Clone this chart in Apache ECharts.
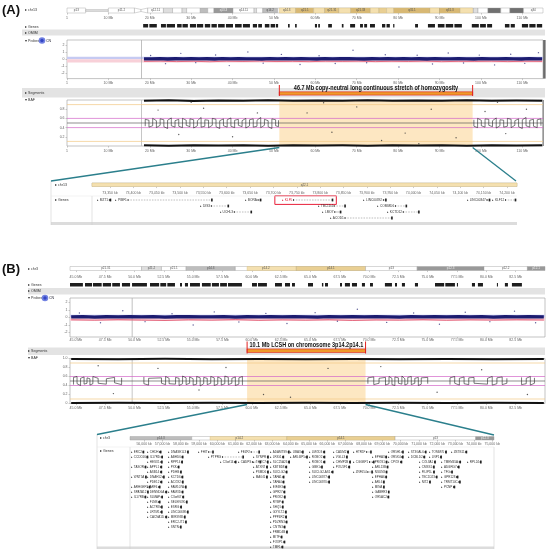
<!DOCTYPE html>
<html>
<head>
<meta charset="utf-8">
<script src="https://cdn.jsdelivr.net/npm/echarts@6/dist/echarts.min.js"></script>
<style>
  html, body { margin: 0; padding: 0; background: #fff; }
  #chart { width: 550px; height: 552px; }
</style>
</head>
<body>
<div id="chart"></div>
<script>
// LCSH regions (Mb) and banner texts
const lcshA = [51.3, 98.0];
const lcshB = [59.6, 69.7];
const bannerA = '46.7 Mb copy-neutral long continuous stretch of homozygosity';
const bannerB = '10.1 Mb LCSH on chromosome 3p14.2p14.1';

// cytobands [start, end, stain, name]
const bandsChr13 = [
  [0, 4.5, 'gvar', 'p13'], [4.5, 10, 'stalk', 'p12'], [10, 16.3, 'gvar', 'p11.2'], [16.3, 17.9, 'acen', 'p11.1'], [17.9, 19.5, 'acen', 'q11'],
  [19.5, 23.3, 'gneg', 'q12.11'], [23.3, 25.5, 'gpos25', 'q12.12'], [25.5, 27.8, 'gneg', 'q12.13'], [27.8, 28.9, 'gpos25', 'q12.2'], [28.9, 32.2, 'gneg', 'q12.3'],
  [32.2, 34, 'gpos50', 'q13.1'], [34, 35.5, 'gneg', 'q13.2'], [35.5, 40.1, 'gpos75', 'q13.3'], [40.1, 45.2, 'gneg', 'q14.11'], [45.2, 45.8, 'gpos25', 'q14.12'],
  [45.8, 47.3, 'gneg', 'q14.13'], [47.3, 50.9, 'gpos50', 'q14.2'], [50.9, 55.3, 'gneg', 'q14.3'], [55.3, 59.6, 'gpos100', 'q21.1'], [59.6, 62.3, 'gneg', 'q21.2'],
  [62.3, 65.7, 'gpos75', 'q21.31'], [65.7, 68.6, 'gneg', 'q21.32'], [68.6, 73.3, 'gpos100', 'q21.33'], [73.3, 75.4, 'gneg', 'q22.1'], [75.4, 77.2, 'gpos50', 'q22.2'],
  [77.2, 79, 'gneg', 'q22.3'], [79, 87.7, 'gpos100', 'q31.1'], [87.7, 90, 'gneg', 'q31.2'], [90, 95, 'gpos100', 'q31.3'], [95, 98.2, 'gneg', 'q32.1'],
  [98.2, 99.3, 'gpos25', 'q32.2'], [99.3, 101.7, 'gneg', 'q32.3'], [101.7, 104.8, 'gpos100', 'q33.1'], [104.8, 107, 'gneg', 'q33.2'], [107, 110.3, 'gpos100', 'q33.3'],
  [110.3, 115.2, 'gneg', 'q34']
];
const bandsChr3 = [
  [40.4, 44.2, 'gpos75', 'p21.33'], [44.2, 50.6, 'gneg', 'p21.31'], [50.6, 52.3, 'gpos25', 'p21.2'], [52.3, 54.4, 'gneg', 'p21.1'],
  [54.4, 58.6, 'gpos50', 'p14.3'], [58.6, 63.8, 'gneg', 'p14.2'], [63.8, 69.7, 'gpos50', 'p14.1'], [69.7, 74.1, 'gneg', 'p13'],
  [74.1, 79.8, 'gpos75', 'p12.3'], [79.8, 83.5, 'gneg', 'p12.2'], [83.5, 87.2, 'gpos75', 'p12.1']
];

// axis ticks
const ticksA = [0, 10, 20, 30, 40, 50, 60, 70, 80, 90, 100, 110];
const ticksB = [45, 47.5, 50, 52.5, 55, 57.5, 60, 62.5, 65, 67.5, 70, 72.5, 75, 77.5, 80, 82.5];
const ticksZoomA = [73.35, 73.4, 73.45, 73.5, 73.55, 73.6, 73.65, 73.7, 73.75, 73.8, 73.85, 73.9, 73.95, 74.0, 74.05, 74.1, 74.15, 74.2];
const ticksZoomB = [56, 57, 58, 59, 60, 61, 62, 63, 64, 65, 66, 67, 68, 69, 70, 71, 72, 73, 74, 75];
const probeTicks = [-2, -1, 0, 1, 2];
const bafTicksA = [0.2, 0.4, 0.6, 0.8];
const bafTicksB = [0, 0.2, 0.4, 0.6, 0.8, 1];

// reference levels
const probeShading = [[0, 0.38], [-0.45, 0]];        // copy-neutral bands (log2)
const bafOuterLines = [0.9, 0.1];
const bafInnerLines = [0.6, 0.4];
const bafMidLine = [0.5];
const centromereA = [18];
const markerLineB = [49.8];

// gene density blocks [start, end] Mb
const geneBlocksA = [[18.4, 19.6], [19.9, 21.7], [22.7, 23.9], [24.1, 26.1], [26.6, 27.7], [27.9, 29.2], [29.7, 31.2], [31.4, 32.9], [33.3, 34.6],
  [34.9, 36.2], [36.5, 38.1], [38.4, 40.1], [40.6, 42.2], [42.5, 44.2], [44.9, 45.9], [46.2, 47.1], [47.8, 48.9], [49.2, 50.3], [50.5, 51.0],
  [53.4, 53.8], [55.1, 55.5], [59.9, 60.4], [60.7, 61.1], [63.1, 64.0], [66.4, 66.8], [68.4, 69.6], [70.8, 71.5], [71.8, 72.5], [73.2, 74.4],
  [76.1, 76.9], [77.2, 78.0], [78.8, 79.1], [84.1, 84.8], [87.2, 88.9], [89.6, 91.2], [91.5, 93.3], [93.6, 95.4], [97.8, 99.5], [99.8, 101.2],
  [101.5, 102.7], [105.8, 106.9], [107.2, 108.2], [109.9, 111.4], [111.7, 113.2], [113.5, 114.8]];
const geneBlocksB = [[44.5, 45.6], [45.78, 46.38], [46.46, 47.2], [47.3, 48.0], [48.1, 48.76], [48.93, 49.62], [49.79, 51.06], [51.32, 52.1],
  [52.2, 52.7], [52.8, 53.45], [53.88, 54.05], [54.3, 54.56], [54.73, 55.58], [55.75, 56.5], [56.6, 57.2], [57.3, 57.88], [57.97, 59.16],
  [60.02, 60.44], [60.53, 61.29], [61.98, 62.57], [62.83, 63.26], [63.43, 63.68], [64.79, 65.22], [65.98, 66.1], [66.24, 66.5], [67.52, 67.69],
  [67.94, 68.37], [68.54, 68.97], [69.39, 69.65], [70.08, 70.33], [71.35, 71.95], [72.21, 72.38], [72.8, 73.06], [73.91, 74.17], [75.62, 76.4],
  [76.5, 77.32], [77.49, 77.58], [78.77, 79.03], [79.28, 79.71], [80.9, 80.99], [81.58, 81.84], [82.18, 83.03]];

// probes log2 ratio
const probeBandA = [[18.6, 0.07], [20.5, 0.05], [22.4, 0.09], [24.3, 0.04], [26.2, 0.08], [28.1, 0.06], [30.0, 0.1], [31.9, 0.05], [33.8, 0.08],
  [35.7, 0.04], [37.6, 0.09], [39.5, 0.06], [41.4, 0.1], [43.3, 0.05], [45.2, 0.07], [47.1, 0.04], [49.0, 0.09], [50.9, 0.06], [52.8, 0.08],
  [54.7, 0.05], [56.6, 0.1], [58.5, 0.06], [60.4, 0.04], [62.3, 0.09], [64.2, 0.05], [66.1, 0.08], [68.0, 0.1], [69.9, 0.06], [71.8, 0.04],
  [73.7, 0.08], [75.6, 0.05], [77.5, 0.09], [79.4, 0.06], [81.3, 0.1], [83.2, 0.05], [85.1, 0.08], [87.0, 0.04], [88.9, 0.09], [90.8, 0.06],
  [92.7, 0.05], [94.6, 0.1], [96.5, 0.07], [98.4, 0.04], [100.3, 0.09], [102.2, 0.06], [104.1, 0.05], [106.0, 0.1], [107.9, 0.07], [109.8, 0.04],
  [111.7, 0.09], [113.6, 0.06], [114.8, 0.07]];
const probeRedA = [[18.6, -0.3], [22.5, -0.26], [26.5, -0.33], [30.5, -0.28], [34.5, -0.35], [38.5, -0.27], [42.5, -0.31], [46.5, -0.25],
  [50.5, -0.32], [54.5, -0.29], [58.5, -0.34], [62.5, -0.27], [66.5, -0.3], [70.5, -0.26], [74.5, -0.33], [78.5, -0.28], [82.5, -0.31],
  [86.5, -0.25], [90.5, -0.34], [94.5, -0.29], [98.5, -0.3], [102.5, -0.27], [106.5, -0.33], [110.5, -0.28], [114.8, -0.3]];
const probeOutA = [[20.2, 0.55], [23.8, -0.62], [27.5, 0.85], [31.1, -0.48], [35.9, 0.62], [39.2, -0.9], [43.7, 1.05], [47.4, -0.55],
  [51.8, 0.7], [56.3, -0.75], [60.9, 0.5], [64.8, -0.6], [69.1, 1.3], [72.4, -0.5], [76.9, 0.65], [80.2, -1.1], [84.6, 0.58], [88.3, -0.68],
  [92.1, 0.9], [95.8, -0.52], [99.6, 0.6], [103.3, -0.8], [107.2, 0.72], [110.6, -0.58], [113.9, 0.95]];
const probeBandB = [[44.6, 0.08], [45.6, 0.12], [46.6, 0.06], [47.6, 0.1], [48.6, 0.07], [49.6, 0.13], [50.6, 0.08], [51.6, 0.11], [52.6, 0.06],
  [53.6, 0.1], [54.6, 0.12], [55.6, 0.07], [56.6, 0.09], [57.6, 0.13], [58.6, 0.06], [59.6, 0.1], [60.6, 0.08], [61.6, 0.12], [62.6, 0.07],
  [63.6, 0.11], [64.6, 0.09], [65.6, 0.06], [66.6, 0.12], [67.6, 0.08], [68.6, 0.1], [69.6, 0.07], [70.6, 0.13], [71.6, 0.09], [72.6, 0.06],
  [73.6, 0.11], [74.6, 0.08], [75.6, 0.12], [76.6, 0.07], [77.6, 0.1], [78.6, 0.09], [79.6, 0.13], [80.6, 0.06], [81.6, 0.1], [82.6, 0.08],
  [83.6, 0.12], [84.9, 0.09]];
const probeRedB = [[44.6, -0.3], [46.6, -0.36], [48.6, -0.28], [50.6, -0.34], [52.6, -0.4], [54.6, -0.3], [56.6, -0.35], [58.6, -0.27],
  [60.6, -0.38], [62.6, -0.31], [64.6, -0.36], [66.6, -0.29], [68.6, -0.4], [70.6, -0.32], [72.6, -0.35], [74.6, -0.28], [76.6, -0.37],
  [78.6, -0.3], [80.6, -0.34], [82.6, -0.29], [84.9, -0.33]];
const probeOutB = [[45.3, 0.6], [47.1, -0.7], [49.0, 0.9], [50.9, -0.55], [53.2, 0.5], [55.0, -1.0], [56.8, 0.75], [58.9, -0.6], [61.2, 0.55],
  [63.0, -0.8], [65.4, 0.65], [67.3, -0.5], [69.0, 1.1], [71.5, -0.65], [73.8, 0.6], [76.0, -0.9], [78.2, 0.7], [80.3, -0.55], [82.4, 0.85],
  [84.2, -0.7]];

// B allele frequency
const bafTopA = [[18.6, 0.985], [24.6, 0.992], [30.6, 0.98], [36.6, 0.99], [42.6, 0.984], [48.6, 0.993], [54.6, 0.982], [60.6, 0.99],
  [66.6, 0.986], [72.6, 0.992], [78.6, 0.981], [84.6, 0.99], [90.6, 0.985], [96.6, 0.993], [102.6, 0.982], [108.6, 0.99], [114.8, 0.986]];
const bafBotA = [[18.6, 0.014], [24.6, 0.008], [30.6, 0.018], [36.6, 0.01], [42.6, 0.016], [48.6, 0.007], [54.6, 0.017], [60.6, 0.01],
  [66.6, 0.014], [72.6, 0.008], [78.6, 0.019], [84.6, 0.01], [90.6, 0.015], [96.6, 0.007], [102.6, 0.018], [108.6, 0.01], [114.8, 0.014]];
// heterozygous band [position, low, high]
const bafMidA = [[18.9, 0.43, 0.58], [19.8, 0.41, 0.56], [20.7, 0.44, 0.6], [21.6, 0.4, 0.55], [22.5, 0.45, 0.59], [23.4, 0.42, 0.57],
  [24.3, 0.38, 0.56], [25.2, 0.44, 0.61], [26.1, 0.41, 0.55], [27.0, 0.43, 0.58], [27.9, 0.4, 0.6], [28.8, 0.45, 0.56], [29.7, 0.42, 0.59],
  [30.6, 0.39, 0.57], [31.5, 0.44, 0.55], [32.4, 0.41, 0.62], [33.3, 0.43, 0.57], [34.2, 0.4, 0.56], [35.1, 0.45, 0.6], [36.0, 0.42, 0.58],
  [36.9, 0.38, 0.55], [37.8, 0.44, 0.59], [38.7, 0.41, 0.57], [39.6, 0.43, 0.61], [40.5, 0.4, 0.56], [41.4, 0.45, 0.58], [42.3, 0.42, 0.55],
  [43.2, 0.39, 0.6], [44.1, 0.44, 0.57], [45.0, 0.41, 0.59], [45.9, 0.43, 0.56], [46.8, 0.4, 0.62], [47.7, 0.45, 0.58], [48.6, 0.42, 0.55],
  [49.5, 0.38, 0.59], [50.4, 0.44, 0.57], [51.1, 0.42, 0.56],
  [98.3, 0.43, 0.57], [99.2, 0.4, 0.6], [100.1, 0.44, 0.56], [101.0, 0.41, 0.59], [101.9, 0.45, 0.58], [102.8, 0.42, 0.55], [103.7, 0.39, 0.61],
  [104.6, 0.44, 0.57], [105.5, 0.41, 0.56], [106.4, 0.43, 0.6], [107.3, 0.4, 0.58], [108.2, 0.45, 0.55], [109.1, 0.42, 0.59], [110.0, 0.38, 0.57],
  [110.9, 0.44, 0.62], [111.8, 0.41, 0.56], [112.7, 0.43, 0.58], [113.6, 0.4, 0.57], [114.5, 0.44, 0.59]];
const bafOutA = [[22.0, 0.78], [27.0, 0.25], [33.0, 0.82], [40.0, 0.2], [46.0, 0.72], [58.0, 0.72], [64.0, 0.3], [70.0, 0.85], [76.0, 0.12],
  [81.7, 0.28], [88.0, 0.8], [94.0, 0.18], [101.0, 0.75], [106.0, 0.27], [111.0, 0.8], [30.0, 0.95], [62.0, 0.94], [85.0, 0.05], [104.0, 0.95]];
const bafTopB = [[44.6, 0.988], [48.6, 0.982], [52.6, 0.992], [56.6, 0.985], [60.6, 0.99], [64.6, 0.983], [68.6, 0.991], [72.6, 0.986],
  [76.6, 0.99], [80.6, 0.982], [84.9, 0.988]];
const bafBotB = [[44.6, 0.012], [48.6, 0.018], [52.6, 0.01], [56.6, 0.016], [60.6, 0.011], [64.6, 0.017], [68.6, 0.012], [72.6, 0.015],
  [76.6, 0.01], [80.6, 0.018], [84.9, 0.013]];
const bafMidB = [[44.8, 0.42, 0.58], [45.1, 0.44, 0.6], [45.4, 0.4, 0.56], [45.7, 0.43, 0.59], [45.95, 0.45, 0.57], [46.2, 0.41, 0.55],
  [46.45, 0.44, 0.6], [46.9, 0.45, 0.56], [47.6, 0.43, 0.55], [48.3, 0.46, 0.58], [48.9, 0.42, 0.57], [50.8, 0.44, 0.59], [51.2, 0.41, 0.56],
  [52.3, 0.45, 0.57], [52.65, 0.42, 0.6], [52.95, 0.44, 0.56], [53.5, 0.43, 0.58], [53.8, 0.4, 0.56], [54.1, 0.44, 0.61], [54.4, 0.42, 0.57],
  [54.7, 0.45, 0.59], [55.0, 0.41, 0.55], [55.3, 0.43, 0.6], [55.6, 0.39, 0.57], [55.9, 0.44, 0.58], [56.2, 0.42, 0.56], [56.5, 0.45, 0.6],
  [56.8, 0.4, 0.57], [57.1, 0.43, 0.59], [57.4, 0.41, 0.55], [57.7, 0.44, 0.61], [58.0, 0.42, 0.58], [58.3, 0.45, 0.56], [58.6, 0.4, 0.59],
  [58.9, 0.43, 0.57], [59.2, 0.41, 0.6], [69.9, 0.44, 0.57], [70.4, 0.42, 0.59], [70.85, 0.45, 0.56], [71.4, 0.41, 0.58], [71.7, 0.44, 0.6],
  [71.95, 0.42, 0.56], [72.2, 0.4, 0.59], [72.5, 0.45, 0.57], [72.8, 0.43, 0.61], [73.05, 0.41, 0.55], [73.3, 0.44, 0.58], [73.6, 0.42, 0.6],
  [73.9, 0.45, 0.56], [74.2, 0.4, 0.58], [74.45, 0.43, 0.57], [75.0, 0.44, 0.58], [76.9, 0.42, 0.57], [77.3, 0.45, 0.6], [77.7, 0.41, 0.56],
  [78.1, 0.44, 0.59], [78.5, 0.42, 0.57], [78.95, 0.45, 0.58], [80.1, 0.43, 0.56], [80.5, 0.41, 0.6], [80.9, 0.44, 0.57], [81.35, 0.42, 0.59],
  [81.75, 0.45, 0.56], [83.0, 0.42, 0.58], [83.4, 0.44, 0.56], [83.75, 0.41, 0.6], [84.1, 0.45, 0.57]];
const bafOutB = [[46.9, 0.84], [48.2, 0.22], [52.0, 0.78], [55.5, 0.3], [57.8, 0.8], [61.0, 0.2], [63.3, 0.14], [66.5, 0.78], [71.0, 0.82],
  [75.8, 0.25], [79.6, 0.75], [83.5, 0.2]];

// zoomed genes A [position Mb, row, name, length Mb, highlighted]
const genesZoomA = [
  [73.322, 0, 'MZT1', 0.005, 0], [73.361, 0, 'PIBF1', 0.182, 0], [73.639, 0, 'BORA', 0.008, 0], [73.718, 0, 'KLF5', 0.086, 1],
  [73.892, 0, 'LINC00392', 0.008, 0], [74.114, 0, 'LINC00347', 0.008, 0], [74.168, 0, 'KLF12', 0.024, 0],
  [73.543, 1, 'DIS3', 0.039, 0], [73.795, 1, 'TBC1D4', 0.026, 0], [73.922, 1, 'COMMD6', 0.026, 0],
  [73.585, 2, 'UCHL3', 0.039, 0], [73.804, 2, 'LMO7', 0.015, 0], [73.943, 2, 'KCTD12', 0.036, 0],
  [73.821, 3, 'ACOD1', 0.103, 0]
];
// zoomed genes B, stacked in columns [position Mb, length Mb, names by row]
const geneColsB = [
  [55.285, 0.08, ['ERC2', 'CCDC66', null, 'TASOR', null, 'WNT5A', null, 'ARHGEF3', 'SPATA12', 'IL17RB']],
  [56.158, 0.12, ['CHDH', 'IL17RD', 'HESX1', 'APPL1', 'ASB14', 'DNAH12', 'PDE12', 'ARF4', 'DENND6A', 'SLMAP', 'FLNB', 'ACTR8', 'LRTM1', 'CACNA1D']],
  [57.304, 0.1, ['DNASE1L3', 'ABHD6', 'RPP14', 'PXK', 'PDHB', 'KCTD6', 'ACOX2', 'FAM107A', 'FAM3D', 'C3orf67', 'SELENOK', 'ESRG', 'LINC00698', 'MIR3938', 'ERC2-IT1', 'SNTN']],
  [58.942, 0.3, ['FHIT']],
  [59.488, 1.2, [null, 'PTPRG']],
  [60.143, 0.12, [null, null, 'C3orf14']],
  [61.125, 0.5, ['FEZF2', null, 'CADPS']],
  [61.944, 0.1, [null, 'SYNPR', 'THOC7', 'ATXN7', 'PSMD6', 'MAGI1']],
  [62.872, 0.1, ['ADAMTS9', 'LRIG1', 'SLC25A26', 'KBTBD8', 'SUCLG2', 'TAFA1', 'TAFA4', 'EIF4E3', 'GPR27', 'PROK2', 'RYBP', 'SHQ1',
    'GXYLT2', 'PPP4R2', 'PDZRN3', 'CNTN3', 'FRMD4B', 'MITF', 'FOXP1', 'TMF1']],
  [63.964, 0.12, ['UBA3', 'ARL6IP5']],
  [65.0, 0.12, ['LMOD3', 'ROBO2', 'ROBO1', 'GBE1', 'SUCLG2-AS1', 'LINC00877', 'LINC00870']],
  [66.31, 0.1, ['CADM2', 'VGLL3', 'CHMP2B', 'POU1F1']],
  [67.4, 0.3, ['HTR1F', null, 'CGGBP1', null, 'ZNF654']],
  [68.44, 0.08, [null, 'EPHA3', 'PROS1', 'ARL13B', 'NSUN3', 'EPHA6', 'ARL6', 'MINA', 'GABRR3', 'OR5AC2']],
  [69.31, 0.12, ['OR5H1', 'OR5K4', 'CPOX']],
  [70.4, 0.1, ['ST3GAL6', 'DCBLD2']],
  [71.0, 0.1, [null, null, 'COL8A1', 'CMSS1', 'FILIP1L', 'TBC1D23', 'NIT2']],
  [71.55, 0.1, ['TOMM70', 'LNP1']],
  [72.21, 0.12, [null, null, 'TMEM45A', 'ADGRG7', 'TFG', 'GPR128', 'TRMT10C', 'PCNP']],
  [72.75, 0.1, ['ZBTB11']],
  [73.625, 0.1, [null, null, 'RPL24']]
];

const FONT = '"Liberation Sans", Arial, sans-serif';
const stainFill = { gneg: '#ffffff', gvar: '#ffffff', gpos25: '#dedede', gpos50: '#bdbdbd', gpos75: '#999999', gpos100: '#707070', acen: '#ffffff', stalk: '#e2e2e2' };
const stainTan = { gneg: '#f4e0b0', gvar: '#f4e0b0', gpos25: '#efd8a2', gpos50: '#e9cf93', gpos75: '#e1c483', gpos100: '#d8b874', acen: '#f4e0b0', stalk: '#f4e0b0' };

const measureCtx = document.createElement('canvas').getContext('2d');
function textWidth(t, fs) {
  measureCtx.font = fs + 'px ' + FONT;
  return measureCtx.measureText(t).width;
}

function ideogramItem(bands, lcsh, fs) {
  return function (params, api) {
    const b = bands[params.dataIndex];
    const cs = params.coordSys;
    const top = api.coord([b[0], 1])[1], bot = api.coord([b[0], 0])[1];
    const h = bot - top, mid = (top + bot) / 2;
    let x1 = api.coord([b[0], 0])[0], x2 = api.coord([b[1], 0])[0];
    x1 = Math.max(x1, cs.x);
    x2 = Math.min(x2, cs.x + cs.width);
    if (x2 <= x1) return null;
    const edge = { stroke: '#9a9a9a', lineWidth: 0.4 };
    const kids = [];
    if (b[2] === 'acen') {
      const pts = b[3][0] === 'p'
        ? [[x1, top], [x2, mid - h * 0.2], [x2, mid + h * 0.2], [x1, bot]]
        : [[x1, mid - h * 0.2], [x2, top], [x2, bot], [x1, mid + h * 0.2]];
      kids.push({ type: 'polygon', shape: { points: pts }, style: Object.assign({ fill: '#fff' }, edge) });
    } else if (b[2] === 'stalk') {
      kids.push({ type: 'rect', shape: { x: x1, y: mid - h * 0.18, width: x2 - x1, height: h * 0.36 }, style: Object.assign({ fill: stainFill.stalk }, edge) });
    } else {
      kids.push({ type: 'rect', shape: { x: x1, y: top, width: x2 - x1, height: h }, style: Object.assign({ fill: stainFill[b[2]] }, edge) });
      const t1 = Math.max(x1, api.coord([lcsh[0], 0])[0]);
      const t2 = Math.min(x2, api.coord([lcsh[1], 0])[0]);
      const inTan = t2 > t1;
      if (inTan) {
        kids.push({ type: 'rect', shape: { x: t1, y: top, width: t2 - t1, height: h }, style: { fill: stainTan[b[2]], stroke: '#d4bb7c', lineWidth: 0.4 } });
      }
      if (x2 - x1 > 14) {
        const dark = !inTan && (b[2] === 'gpos100' || b[2] === 'gpos75');
        kids.push({ type: 'text', style: { text: b[3], x: (x1 + x2) / 2, y: mid, align: 'center', verticalAlign: 'middle',
          fontSize: fs, fontFamily: FONT, fill: dark ? '#f0f0f0' : '#555' } });
      }
    }
    return { type: 'group', children: kids };
  };
}

function blockItem(blocks) {
  return function (params, api) {
    const b = blocks[params.dataIndex];
    const p1 = api.coord([b[0], 1]), p2 = api.coord([b[1], 0]);
    return { type: 'rect', shape: { x: p1[0], y: p1[1], width: Math.max(p2[0] - p1[0], 0.8), height: p2[1] - p1[1] }, style: { fill: '#1e1e1e' } };
  };
}

// ---- panel layers (each returns a list of elements, drawn in order) ----
function yBands(bands, colors) {
  return function (params, api) {
    const cs = params.coordSys;
    return bands.map(function (b, k) {
      const yHi = api.coord([0, b[1]])[1], yLo = api.coord([0, b[0]])[1];
      return { type: 'rect', shape: { x: cs.x, y: yHi, width: cs.width, height: yLo - yHi }, style: { fill: colors[k] } };
    });
  };
}
function xBand(range, color) {
  return function (params, api) {
    const cs = params.coordSys;
    const x1 = api.coord([range[0], 0])[0], x2 = api.coord([range[1], 0])[0];
    return [{ type: 'rect', shape: { x: x1, y: cs.y, width: x2 - x1, height: cs.height }, style: { fill: color } }];
  };
}
function hLines(values, color, width) {
  return function (params, api) {
    const cs = params.coordSys;
    return values.map(function (v) {
      const y = api.coord([0, v])[1];
      return { type: 'line', shape: { x1: cs.x, y1: y, x2: cs.x + cs.width, y2: y }, style: { stroke: color, lineWidth: width } };
    });
  };
}
function vLines(values, color, width) {
  return function (params, api) {
    const cs = params.coordSys;
    return values.map(function (v) {
      const x = api.coord([v, 0])[0];
      return { type: 'line', shape: { x1: x, y1: cs.y, x2: x, y2: cs.y + cs.height }, style: { stroke: color, lineWidth: width } };
    });
  };
}
// polyline through [x, y] points, broken where the x gap exceeds maxGap
function trace(pts, color, width, maxGap) {
  return function (params, api) {
    const groups = [];
    let cur = [];
    for (let i = 0; i < pts.length; i++) {
      if (i > 0 && pts[i][0] - pts[i - 1][0] > maxGap) { groups.push(cur); cur = []; }
      cur.push(api.coord([pts[i][0], pts[i][1]]));
    }
    groups.push(cur);
    return groups.filter(g => g.length > 1).map(g => ({
      type: 'polyline', shape: { points: g }, style: { stroke: color, lineWidth: width, fill: 'none', lineJoin: 'round' }
    }));
  };
}
function panelItem(layers) {
  return function (params, api) {
    let kids = [];
    layers.forEach(function (fn) { kids = kids.concat(fn(params, api)); });
    return { type: 'group', children: kids };
  };
}

// ragged heterozygous band: zigzag through each [x, low, high]
function zigzagPoints(rows) {
  const out = [];
  rows.forEach(function (w, i) {
    if (i % 2 === 0) { out.push([w[0], w[1]]); out.push([w[0], w[2]]); }
    else { out.push([w[0], w[2]]); out.push([w[0], w[1]]); }
  });
  return out;
}

function bannerItem(text) {
  return function (params, api) {
    const p1 = api.coord([api.value(0), 1]), p2 = api.coord([api.value(1), 0]);
    const h = p2[1] - p1[1];
    return {
      type: 'group', children: [
        { type: 'rect', shape: { x: p1[0], y: p1[1] + h * 0.62, width: p2[0] - p1[0], height: h * 0.3 }, style: { fill: '#ee9a2a', stroke: '#e02020', lineWidth: 0.6 } },
        { type: 'line', shape: { x1: p1[0], y1: p1[1], x2: p1[0], y2: p2[1] }, style: { stroke: '#e02020', lineWidth: 1 } },
        { type: 'line', shape: { x1: p2[0], y1: p1[1], x2: p2[0], y2: p2[1] }, style: { stroke: '#e02020', lineWidth: 1 } },
        { type: 'text', x: (p1[0] + p2[0]) / 2, y: p1[1] + h * 0.3, scaleX: 0.81,
          style: { text: text, x: 0, y: 0, align: 'center', verticalAlign: 'middle', font: 'bold 6.8px ' + FONT, fill: '#111' } }
      ]
    };
  };
}

function zoomGeneItem(list, fs) {
  return function (params, api) {
    const g = list[params.dataIndex];
    const p = api.coord([g[0], g[1]]);
    const label = '\u25B8 ' + g[2];
    const bx = p[0] + textWidth(label, fs) + 0.8;
    const bw = Math.max(api.size([g[3], 0])[0], 1.6);
    const lineStyle = { stroke: '#555', lineWidth: 0.4 };
    if (bw > 8) lineStyle.lineDash = [1.5, 1.2];
    const kids = [
      { type: 'text', style: { text: label, x: p[0], y: p[1], align: 'left', verticalAlign: 'middle', fontSize: fs, fontFamily: FONT, fill: g[4] ? '#e0203a' : '#333' } },
      { type: 'line', shape: { x1: bx, y1: p[1], x2: bx + bw, y2: p[1] }, style: lineStyle },
      { type: 'rect', shape: { x: bx, y: p[1] - 1, width: 0.8, height: 2 }, style: { fill: '#333' } },
      { type: 'rect', shape: { x: bx + bw - 1.6, y: p[1] - 1.4, width: 1.6, height: 2.8 }, style: { fill: '#222' } }
    ];
    if (g[4]) {
      kids.push({ type: 'rect', shape: { x: p[0] - 7, y: p[1] - 4.2, width: bx + bw - p[0] + 10, height: 8.6 }, style: { fill: 'none', stroke: '#e8203a', lineWidth: 1 } });
    }
    return { type: 'group', children: kids };
  };
}

// flatten column layout for panel B zoom
const genesZoomB = [];
geneColsB.forEach(function (col) {
  col[2].forEach(function (name, row) {
    if (name) genesZoomB.push([col[0], row, name, col[1], 0]);
  });
});

// grids [left, top, width, height]
const gridBoxes = [
  [67, 8, 476, 5], [67, 24, 476, 3.5], [67, 40, 476, 38.6], [67, 85, 476, 11], [67, 100, 476, 46],
  [92, 183, 425, 3.5], [92, 197, 425, 24],
  [70, 266.5, 475, 4], [70, 283, 475, 3.5], [70, 298, 475, 39], [70, 341.5, 475, 12], [70, 358.5, 475, 45],
  [130, 436.5, 364, 3.5], [130, 449.5, 364, 100]
];
const bordered = [2, 4, 9, 11];

const fmtA = v => (v === 0 ? '1' : v + ' Mb');
const fmtB = v => v.toFixed(1) + ' Mb';
const fmtKb = v => Math.round(v * 1000).toLocaleString('en-US') + ' kb';

function xAx(grid, min, max, ticks, fmt, margin) {
  const show = !!ticks;
  return {
    gridIndex: grid, type: 'value', min: min, max: max, position: 'bottom',
    axisLine: { show: false, onZero: false },
    axisTick: show ? { show: true, length: 1.6, lineStyle: { color: '#999', width: 0.5 }, customValues: ticks } : { show: false },
    axisLabel: show ? { show: true, customValues: ticks, formatter: fmt, fontSize: 3.5, color: '#666', margin: margin, fontFamily: FONT } : { show: false },
    splitLine: { show: false }
  };
}
function yAx(grid, min, max, ticks, fmt, inverse) {
  const show = !!ticks;
  return {
    gridIndex: grid, type: 'value', min: min, max: max, inverse: !!inverse,
    axisLine: { show: false, onZero: false },
    axisTick: show ? { show: true, length: 1.5, lineStyle: { color: '#999', width: 0.5 }, customValues: ticks } : { show: false },
    axisLabel: show ? { show: true, customValues: ticks, formatter: fmt, fontSize: 3.5, color: '#666', margin: 2.5, fontFamily: FONT } : { show: false },
    splitLine: { show: false }
  };
}

const xAxes = [
  xAx(0, 0, 115, ticksA, fmtA, 3.2), xAx(1, 0, 115), xAx(2, 0, 115, ticksA, fmtA, 2.7), xAx(3, 0, 115), xAx(4, 0, 115, ticksA, fmtA, 2.7),
  xAx(5, 73.3115, 74.2215, ticksZoomA, fmtKb, 4.7), xAx(6, 73.3115, 74.2215),
  xAx(7, 44.5, 85, ticksB, fmtB, 4.7), xAx(8, 44.5, 85), xAx(9, 44.5, 85, ticksB, fmtB, 1.3), xAx(10, 44.5, 85), xAx(11, 44.5, 85, ticksB, fmtB, 2.2),
  xAx(12, 55.23, 75.1, ticksZoomB, fmtKb, 2.2), xAx(13, 55.23, 75.1)
];
const yAxes = [
  yAx(0, 0, 1), yAx(1, 0, 1), yAx(2, -2.75, 2.75, probeTicks, v => String(v)), yAx(3, 0, 1),
  yAx(4, 0, 1, bafTicksA, v => v.toFixed(1)),
  yAx(5, 0, 1), yAx(6, -0.5, 3.5, null, null, true),
  yAx(7, 0, 1), yAx(8, 0, 1), yAx(9, -2.6, 2.6, probeTicks, v => String(v)), yAx(10, 0, 1),
  yAx(11, 0, 1, bafTicksB, v => (v === 0 ? '0' : v.toFixed(1))),
  yAx(12, 0, 1), yAx(13, -0.5, 19.5, null, null, true)
];

function dotS(i, data, color) {
  return { type: 'scatter', xAxisIndex: i, yAxisIndex: i, data: data, symbolSize: 1.4, z: 4, silent: true, itemStyle: { color: color } };
}
function customS(i, data, render, encX) {
  return { type: 'custom', xAxisIndex: i, yAxisIndex: i, data: data, renderItem: render, z: 2, silent: true,
    encode: { x: encX || [0], y: [1] }, clip: false };
}
function probePanel(i, marker, red, band) {
  return customS(i, [band[0]], panelItem([
    yBands(probeShading, ['#c6caf2', '#f8d0d8']),
    vLines(marker, '#b0b0b0', 0.8),
    trace(red, '#e0506a', 0.8, 10),
    trace(band, '#1c1c70', 3.3, 10)
  ]));
}
function bafPanel(i, marker, lcsh, top, bot, mid) {
  return customS(i, [top[0]], panelItem([
    xBand(lcsh, '#fde7c2'),
    vLines(marker, '#b8b8b8', 0.8),
    hLines(bafOuterLines, '#f2c884', 0.7),
    hLines(bafInnerLines, '#d266c8', 0.7),
    hLines(bafMidLine, '#444', 0.6),
    trace(top, '#111', 2, 10),
    trace(bot, '#111', 2, 10),
    trace(zigzagPoints(mid), '#222', 0.6, 1.2)
  ]));
}

const series = [
  // panel A
  customS(0, bandsChr13.map(b => [b[0], b[1]]), ideogramItem(bandsChr13, lcshA, 3), [0, 1]),
  customS(1, geneBlocksA, blockItem(geneBlocksA), [0, 1]),
  probePanel(2, centromereA, probeRedA, probeBandA),
  dotS(2, probeOutA, '#3a3a80'),
  customS(3, [lcshA], bannerItem(bannerA), [0, 1]),
  bafPanel(4, centromereA, lcshA, bafTopA, bafBotA, bafMidA),
  dotS(4, bafOutA, '#333'),
  customS(5, bandsChr13.map(b => [b[0], b[1]]), ideogramItem(bandsChr13, lcshA, 3), [0, 1]),
  customS(6, genesZoomA.map(g => [g[0], g[1]]), zoomGeneItem(genesZoomA, 3.2)),
  // panel B
  customS(7, bandsChr3.map(b => [b[0], b[1]]), ideogramItem(bandsChr3, lcshB, 3), [0, 1]),
  customS(8, geneBlocksB, blockItem(geneBlocksB), [0, 1]),
  probePanel(9, markerLineB, probeRedB, probeBandB),
  dotS(9, probeOutB, '#3a3a80'),
  customS(10, [lcshB], bannerItem(bannerB), [0, 1]),
  bafPanel(11, markerLineB, lcshB, bafTopB, bafBotB, bafMidB),
  dotS(11, bafOutB, '#333'),
  customS(12, bandsChr3.map(b => [b[0], b[1]]), ideogramItem(bandsChr3, lcshB, 3), [0, 1]),
  customS(13, genesZoomB.map(g => [g[0], g[1]]), zoomGeneItem(genesZoomB, 3))
];

const chart = echarts.init(document.getElementById('chart'), null, { renderer: 'canvas' });
chart.setOption({
  animation: false,
  backgroundColor: '#fff',
  textStyle: { fontFamily: FONT },
  grid: gridBoxes.map((g, i) => ({
    left: g[0], top: g[1], width: g[2], height: g[3], containLabel: false,
    show: bordered.indexOf(i) >= 0, borderColor: '#9a9a9a', borderWidth: 0.6, backgroundColor: 'transparent'
  })),
  xAxis: xAxes,
  yAxis: yAxes,
  series: series
});

// annotations: panel letters, track names, gray track rows, zoom frames and connectors
const trackLabels = [
  ['\u25B8 chr13', 25, 10], ['\u25B8 Genes', 25, 26.5], ['\u25B8 OMIM', 25, 32.5], ['\u25BE Probes', 25, 40.5], ['\u25B8 Segments', 25, 92.5], ['\u25BE BAF', 25, 100],
  ['\u25B8 chr13', 55, 185], ['\u25B8 Genes', 55, 199.5],
  ['\u25B8 chr3', 28, 268.5], ['\u25B8 Genes', 28, 284.5], ['\u25B8 OMIM', 28, 291], ['\u25BE Probes', 28, 298], ['\u25B8 Segments', 28, 351], ['\u25BE BAF', 28, 357.5],
  ['\u25B8 chr3', 100, 438], ['\u25B8 Genes', 100, 451]
];
const gfx = [];
function rect(x, y, w, h, fill) { gfx.push({ type: 'rect', z: -1, silent: true, shape: { x: x, y: y, width: w, height: h }, style: { fill: fill } }); }
function seg(x1, y1, x2, y2, color, w) { gfx.push({ type: 'line', silent: true, z: 5, shape: { x1: x1, y1: y1, x2: x2, y2: y2 }, style: { stroke: color, lineWidth: w } }); }

rect(22, 29.5, 523, 6, '#e3e3e3');
rect(22, 88, 523, 9.5, '#e3e3e3');
rect(28, 288, 517, 6.5, '#e3e3e3');
rect(28, 347.5, 517, 7.5, '#e3e3e3');
rect(543, 40, 2.6, 38.6, '#6c6c6c');
rect(542.5, 100, 1.4, 46, '#888');
// zoom panel frames
seg(51, 181, 51, 225, '#d0d0d0', 0.6);
seg(92, 196, 92, 225, '#d0d0d0', 0.6);
seg(51, 196, 517, 196, '#e6e6e6', 0.5);
rect(51, 222, 466, 3, '#dcdcdc');
seg(97, 434, 97, 549, '#d0d0d0', 0.6);
seg(130, 447, 130, 549, '#d0d0d0', 0.6);
seg(494, 447, 494, 549, '#d0d0d0', 0.6);
seg(97, 447, 494, 447, '#e6e6e6', 0.5);
rect(97, 546.5, 397, 2.5, '#dcdcdc');

trackLabels.forEach(function (t) {
  gfx.push({ type: 'text', silent: true, z: 5, style: { text: t[0], x: t[1], y: t[2], verticalAlign: 'middle', fontSize: 3.6, fontFamily: FONT, fill: '#333' } });
});
[[42, 40.5], [45, 298]].forEach(function (c) {
  gfx.push({ type: 'circle', silent: true, z: 5, shape: { cx: c[0], cy: c[1], r: 3.3 }, style: { fill: '#7282e2' } });
  gfx.push({ type: 'circle', silent: true, z: 5, shape: { cx: c[0], cy: c[1], r: 1.7 }, style: { fill: '#3446c4' } });
  gfx.push({ type: 'text', silent: true, z: 5, style: { text: 'CN', x: c[0] + 4, y: c[1], verticalAlign: 'middle', fontSize: 3.6, fontFamily: FONT, fill: '#223' } });
});
gfx.push({ type: 'text', silent: true, z: 5, style: { text: '(A)', x: 2, y: 4, fontSize: 13, fontWeight: 'bold', fontFamily: FONT, fill: '#111' } });
gfx.push({ type: 'text', silent: true, z: 5, style: { text: '(B)', x: 2, y: 263, fontSize: 13, fontWeight: 'bold', fontFamily: FONT, fill: '#111' } });

// connectors from the LCSH edges of each BAF track to its zoom panel
const a1 = chart.convertToPixel({ gridIndex: 4 }, [lcshA[0], 0]);
const a2 = chart.convertToPixel({ gridIndex: 4 }, [lcshA[1], 0]);
const b1 = chart.convertToPixel({ gridIndex: 11 }, [lcshB[0], 0]);
const b2 = chart.convertToPixel({ gridIndex: 11 }, [lcshB[1], 0]);
seg(a1[0], a1[1] + 1.5, 51, 181, '#2b7f8c', 1.3);
seg(a2[0], a2[1] + 1.5, 516, 181, '#2b7f8c', 1.3);
seg(b1[0], b1[1] + 1, 97, 434.5, '#2b7f8c', 1.3);
seg(b2[0], b2[1] + 1, 494, 435, '#2b7f8c', 1.3);

chart.setOption({ graphic: { elements: gfx } });
</script>
</body>
</html>
